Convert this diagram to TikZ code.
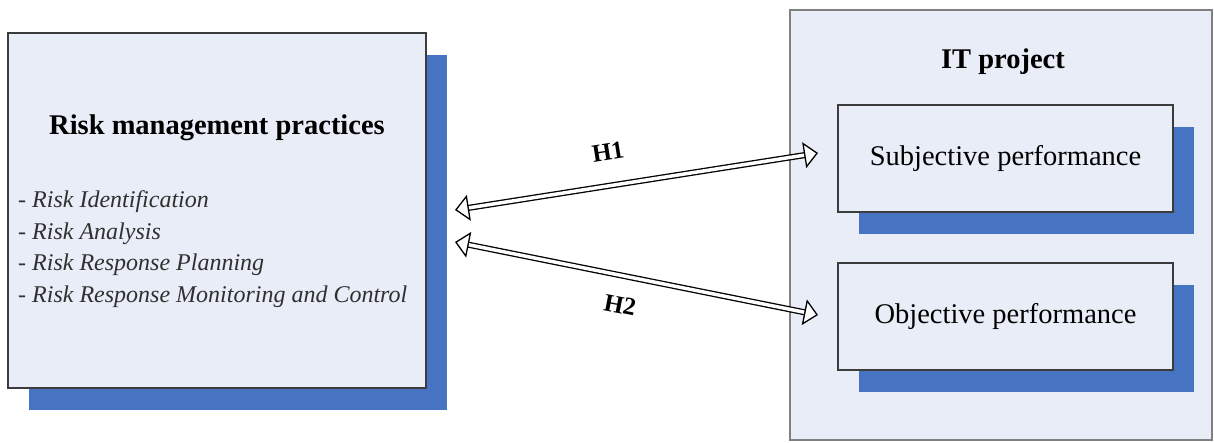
\documentclass[tikz,border=0pt]{standalone}
\usepackage{fontspec}
\setmainfont{Liberation Serif}
\usetikzlibrary{arrows.meta,shadows}
\definecolor{boxfill}{HTML}{E8EDF7}
\definecolor{shadowblue}{HTML}{4673C2}
\definecolor{edgedark}{HTML}{3C3C3C}
\definecolor{edgegray}{HTML}{808080}
\definecolor{listgray}{HTML}{303030}
\begin{document}
\begin{tikzpicture}[x=1pt,y=1pt,
  shadowed/.style={draw=edgedark, line width=1.4pt, fill=boxfill, inner sep=0pt,
    drop shadow={shadow xshift=21pt, shadow yshift=-22pt, fill=shadowblue, opacity=1}},
  outerbox/.style={draw=edgegray, line width=2pt, fill=boxfill, inner sep=0pt},
  perfbox/.style={shadowed, minimum width=335pt, minimum height=107pt, font=\fontsize{28.5}{30}\selectfont},
  hyp/.style={draw=black, line width=1.3pt, double=white, double distance=3.5pt,
    {Triangle[open,length=14pt,width=26pt,fill=white]}-{Triangle[open,length=14pt,width=26pt,fill=white]}},
  hlabel/.style={font=\fontsize{25}{27}\selectfont\bfseries, inner sep=0pt}]
\useasboundingbox (0,0) rectangle (1214,442);
% left box
\node[shadowed, minimum width=418pt, minimum height=355pt] (rmp) at (217,231.5) {};
\node[font=\fontsize{28.5}{30}\selectfont\bfseries, inner sep=0pt] (title) at (217,314) {Risk management practices};
\node[font=\fontsize{24}{31.7}\selectfont\itshape, text=listgray, align=left, anchor=west, inner sep=0pt] (list) at (18,193) {- Risk Identification\\- Risk Analysis\\- Risk Response Planning\\- Risk Response Monitoring and Control};
% right big box
\node[outerbox, minimum width=422pt, minimum height=430pt] (itp) at (1001,217) {};
\node[font=\fontsize{28.5}{30}\selectfont\bfseries, inner sep=0pt] (ittitle) at (1003,380) {IT project};
\node[perfbox] (sub) at (1005.5,283.5) {Subjective performance};
\node[perfbox] (obj) at (1005.5,125.5) {Objective performance};
% arrows
\coordinate (h1l) at (455,232);
\coordinate (h1r) at (818,289);
\coordinate (h2l) at (455,200);
\coordinate (h2r) at (818,127);
\draw[hyp] (h1l) -- (h1r);
\draw[hyp] (h2l) -- (h2r);
\node[hlabel, rotate=9] (lab1) at (608,290) {H1};
\node[hlabel, rotate=-11] (lab2) at (620,137) {H2};
\end{tikzpicture}
\end{document}
